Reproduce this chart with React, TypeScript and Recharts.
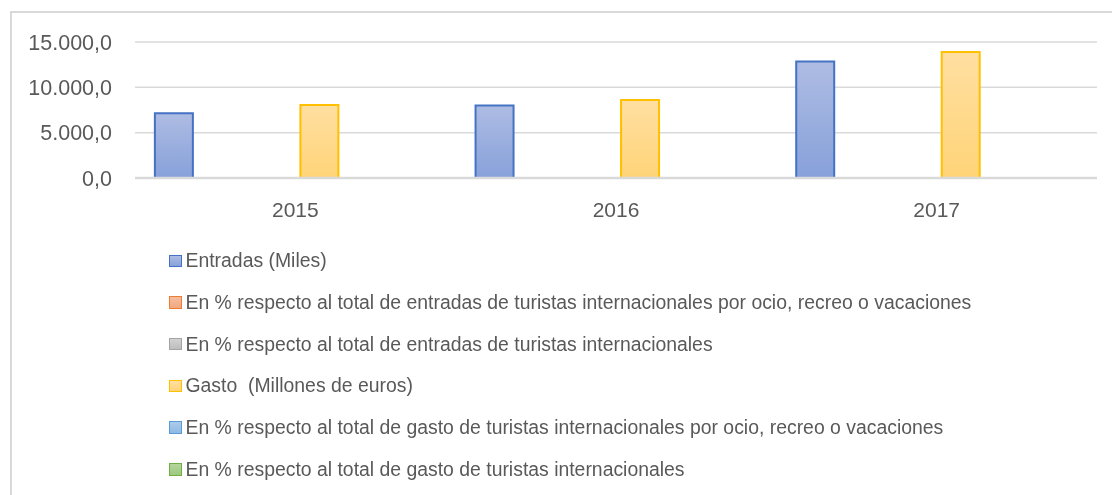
import React from 'react';
import { BarChart, Bar, XAxis, YAxis, CartesianGrid, Legend } from 'recharts';

const categories = ['2015', '2016', '2017'];
const entradasMiles = [7150, 8000, 12850];
const pctEntradasOcio = [0, 0, 0];
const pctEntradasTotal = [0, 0, 0];
const gastoMillones = [8050, 8600, 13900];
const pctGastoOcio = [0, 0, 0];
const pctGastoTotal = [0, 0, 0];

const yTicks = [0, 5000, 10000, 15000];
const yTickLabels = ['0,0', '5.000,0', '10.000,0', '15.000,0'];

const seriesNames = [
  'Entradas (Miles)',
  'En % respecto al total de entradas de turistas internacionales por ocio, recreo o vacaciones',
  'En % respecto al total de entradas de turistas internacionales',
  'Gasto  (Millones de euros)',
  'En % respecto al total de gasto de turistas internacionales por ocio, recreo o vacaciones',
  'En % respecto al total de gasto de turistas internacionales',
];

const seriesValues = [entradasMiles, pctEntradasOcio, pctEntradasTotal, gastoMillones, pctGastoOcio, pctGastoTotal];

const seriesStyles = [
  { stroke: '#4472C4', top: '#AEBCE3', bottom: '#87A1DA' },
  { stroke: '#ED7D31', top: '#F6BDA0', bottom: '#F3A77F' },
  { stroke: '#A5A5A5', top: '#D2D2D2', bottom: '#BDBDBD' },
  { stroke: '#FFC000', top: '#FFDFA1', bottom: '#FFD478' },
  { stroke: '#5B9BD5', top: '#ABCBEB', bottom: '#8FB9E3' },
  { stroke: '#70AD47', top: '#B4D59C', bottom: '#9CC97F' },
];

const data = categories.map((c, i) => {
  const row: Record<string, string | number> = { year: c };
  seriesValues.forEach((vals, s) => {
    row['s' + s] = vals[i];
  });
  return row;
});

const FONT = '"Liberation Sans", Arial, sans-serif';
const TEXT = '#595959';

const renderLegend = () => (
  <div style={{ fontFamily: FONT, fontSize: 19.4, color: TEXT }}>
    {seriesNames.map((name, i) => (
      <div
        key={name}
        style={{ height: 41.7, display: 'flex', alignItems: 'center', whiteSpace: 'pre' }}
      >
        <span
          style={{
            display: 'inline-block',
            flex: 'none',
            width: 10.5,
            height: 10.5,
            border: `1.5px solid ${seriesStyles[i].stroke}`,
            background: `linear-gradient(${seriesStyles[i].top}, ${seriesStyles[i].bottom})`,
            marginRight: 4,
          }}
        />
        <span>{name}</span>
      </div>
    ))}
  </div>
);

export default function App() {
  return (
    <div style={{ position: 'relative', width: 1096, height: 479 }}>
      <div
        style={{
          position: 'fixed',
          left: 10,
          top: 11,
          width: 1200,
          height: 700,
          borderTop: '2px solid #D9D9D9',
          borderLeft: '2px solid #D9D9D9',
          boxSizing: 'border-box',
        }}
      />
      <div style={{ position: 'absolute', left: 0, top: 0 }}>
        <BarChart
          width={1096}
          height={479}
          data={data}
          margin={{ top: 34, right: 7, left: 0, bottom: 279 }}
          barCategoryGap="6.2%"
          barGap={10.5}
        >
          <defs>
            {seriesStyles.map((s, i) => (
              <linearGradient key={i} id={'grad' + i} x1="0" y1="0" x2="0" y2="1">
                <stop offset="0%" stopColor={s.top} />
                <stop offset="100%" stopColor={s.bottom} />
              </linearGradient>
            ))}
          </defs>
          <CartesianGrid vertical={false} stroke="#D9D9D9" strokeWidth={1.5} />
          <XAxis
            dataKey="year"
            height={30}
            axisLine={{ stroke: '#D9D9D9', strokeWidth: 2.5 }}
            tickLine={false}
            tickSize={0}
            tickMargin={24}
            tick={{ fill: TEXT, fontSize: 21, fontFamily: FONT }}
          />
          <YAxis
            width={127}
            domain={[0, 15000]}
            ticks={yTicks}
            interval={0}
            axisLine={false}
            tickLine={false}
            tickSize={0}
            tickMargin={23}
            tick={{ fill: TEXT, fontSize: 21.5, fontFamily: FONT }}
            tickFormatter={(v: number) => yTickLabels[yTicks.indexOf(v)] ?? String(v)}
          />
          {seriesNames.map((name, i) => (
            <Bar
              key={name}
              dataKey={'s' + i}
              name={name}
              fill={`url(#grad${i})`}
              stroke={seriesStyles[i].stroke}
              strokeWidth={2}
              isAnimationActive={false}
            />
          ))}
          <Legend
            layout="vertical"
            align="center"
            verticalAlign="middle"
            content={renderLegend}
            wrapperStyle={{ top: 232, left: 161, width: 900 }}
          />
        </BarChart>
      </div>
    </div>
  );
}
